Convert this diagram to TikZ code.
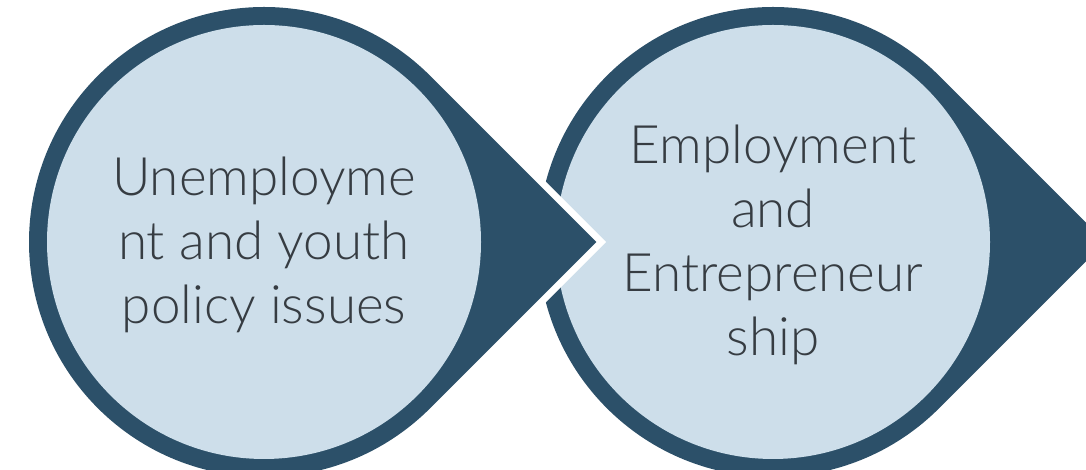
\documentclass[tikz,border=0pt]{standalone}
\usepackage{fontspec}
\setmainfont{Lato}[UprightFont=* Light]
\definecolor{ringblue}{HTML}{2C5069}
\definecolor{paleblue}{HTML}{CDDEEA}
\definecolor{txtgray}{HTML}{363C42}
\tikzset{
  ringfill/.style={fill=ringblue},
  innerfill/.style={fill=paleblue},
  gapline/.style={draw=white,line width=14pt,line join=miter},
  label/.style={text=txtgray,align=center,inner sep=0pt,font=\fontsize{53}{64}\selectfont}
}
\begin{document}
\begin{tikzpicture}[x=1pt,y=1pt]
\useasboundingbox (0,0) rectangle (1086,470);
\clip (0,0) rectangle (1086,470);
\def\R{235}
\def\r{217}
\coordinate (c1) at (264,228);
\coordinate (c2) at (773,228);
\coordinate (tip1) at (596.3,228);
\coordinate (tip2) at (1105.3,228);
% second teardrop
\path[ringfill] (c2) ++(45:\R) arc[start angle=45,end angle=315,radius=\R] -- (tip2) -- cycle;
\path[innerfill] (c2) circle[radius=\r];
% first teardrop with white gap
\path[gapline] (c1) ++(45:\R) arc[start angle=45,end angle=315,radius=\R] -- (tip1) -- cycle;
\path[ringfill] (c1) ++(45:\R) arc[start angle=45,end angle=315,radius=\R] -- (tip1) -- cycle;
\path[innerfill] (c1) circle[radius=\r];
\node[label] (t1) at (264,225) {Unemployme\\nt and youth\\policy issues};
\node[label] (t2) at (773,225) {Employment\\and\\Entrepreneur\\ship};
\end{tikzpicture}
\end{document}
